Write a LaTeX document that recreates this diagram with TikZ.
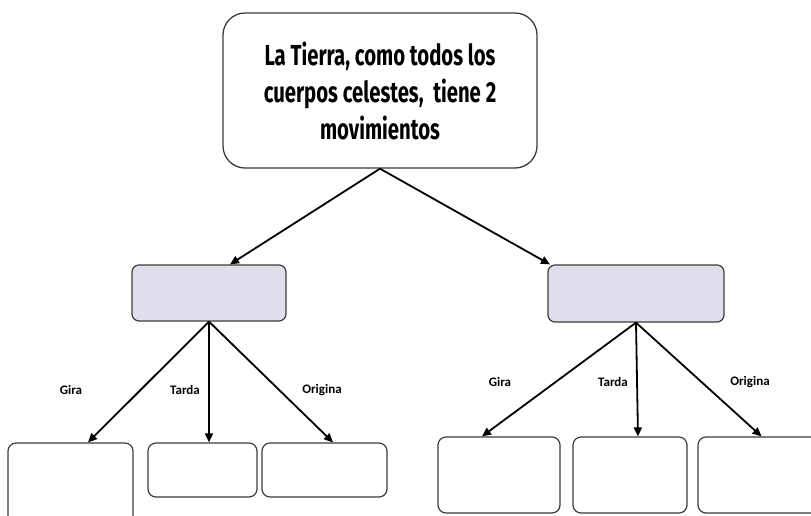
\documentclass[tikz,border=0pt]{standalone}
\usepackage{fontspec}
\usetikzlibrary{arrows.meta}
\newfontfamily\handfont[FakeStretch=0.7]{Fira Sans}
\newfontfamily\lblfont{Carlito}
\definecolor{lila}{RGB}{226,221,234}
\definecolor{borde}{RGB}{60,60,60}

\tikzset{
    topbox/.style = {draw = borde, line width = 1.3pt, rounded corners = 22pt,
        minimum width = 314pt, minimum height = 155pt, align = center,
        font = \handfont\bfseries\fontsize{29}{37}\selectfont},
    midbox/.style = {draw = borde, fill = lila, line width = 1.2pt, rounded corners = 7pt},
    leafbox/.style = {draw = borde, line width = 1.2pt, rounded corners = 8pt},
    lbl/.style = {font = \lblfont\bfseries\fontsize{13}{15}\selectfont},
    arr/.style = {-{Triangle[length = 9pt, width = 8pt]}, line width = 1.8pt}
}

\begin{document}
\begin{tikzpicture}[x = 1pt, y = -1pt]
        \useasboundingbox (0, 0) rectangle (811, 515);
        % caja principal
        \node [topbox] (tierra) at (380, 90.5)
            {La Tierra, como todos los\\cuerpos celestes, \ tiene 2\\movimientos};
        % los dos movimientos
        \node [midbox, minimum width = 154pt, minimum height = 56pt] (movA) at (209, 293) {};
        \node [midbox, minimum width = 176pt, minimum height = 57pt] (movB) at (636, 293.5) {};
        \draw [arr] (tierra.south) -- ([xshift = 21pt]movA.north);
        \draw [arr] (tierra.south) -- ([xshift = -86pt]movB.north);
        % hojas izquierda
        \node [leafbox, minimum width = 125pt, minimum height = 95pt] (giraA) at (70.5, 490.5) {};
        \node [leafbox, minimum width = 109pt, minimum height = 54pt] (tardaA) at (202.5, 470) {};
        \node [leafbox, minimum width = 125pt, minimum height = 54pt] (originaA) at (324.5, 470) {};
        \draw [arr] (movA.south) -- ([xshift = 17.5pt]giraA.north);
        \draw [arr] (movA.south) -- ([xshift = 6.5pt]tardaA.north);
        \draw [arr] (movA.south) -- ([xshift = 8.5pt]originaA.north);
        \node [lbl] (lblGiraA) at (71, 390) {Gira};
        \node [lbl] (lblTardaA) at (185, 390) {Tarda};
        \node [lbl] (lblOriginaA) at (322, 390) {Origina};
        % hojas derecha
        \node [leafbox, minimum width = 122pt, minimum height = 76pt] (giraB) at (499, 475) {};
        \node [leafbox, minimum width = 114pt, minimum height = 76pt] (tardaB) at (630, 475) {};
        \node [leafbox, minimum width = 127pt, minimum height = 76pt] (originaB) at (761.5, 475) {};
        \draw [arr] (movB.south) -- ([xshift = -17pt]giraB.north);
        \draw [arr] (movB.south) -- ([xshift = 8pt]tardaB.north);
        \draw [arr] (movB.south) -- (originaB.north);
        \node [lbl] (lblGiraB) at (500, 382) {Gira};
        \node [lbl] (lblTardaB) at (613, 382) {Tarda};
        \node [lbl] (lblOriginaB) at (750, 382) {Origina};
    \end{tikzpicture}
\end{document}
